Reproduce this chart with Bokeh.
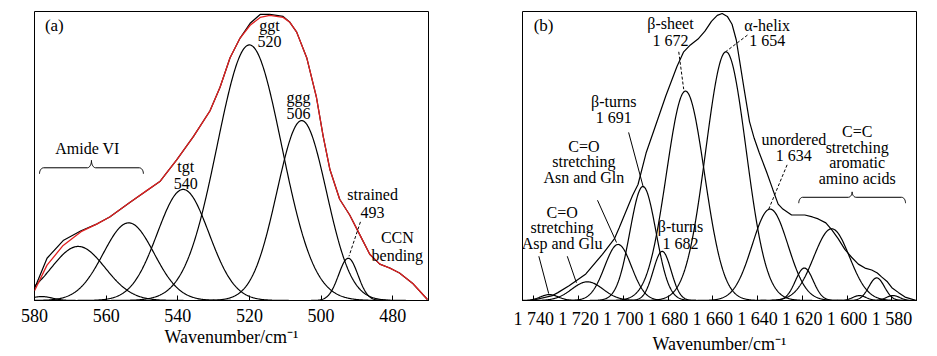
import numpy as np
from bokeh.plotting import figure
from bokeh.layouts import row
from bokeh.models import FixedTicker, Range1d
from bokeh.core.properties import value
from bokeh.embed import file_html
from bokeh.resources import INLINE

FONT = "Liberation Serif"

# ---------------- Panel (a): 580-470 cm-1 ----------------
a_peak_center = [578.0, 567.8, 553.7, 538.5, 520.0, 505.4, 492.4]
a_peak_height = [4, 55, 79, 113, 260, 183, 43]
a_peak_sigma = [3.0, 7.5, 7.1, 7.2, 9.0, 6.9, 2.7]

a_env_x = [580, 576.5, 572, 567, 562.5, 559, 553.3, 548.6, 545, 543.5, 540.3, 535.6,
           531, 528.2, 525.4, 522.6, 519.8, 517, 514.3, 510.6, 508.7, 506.8, 504,
           501.3, 499.4, 497.5, 494.8, 492, 489.2, 486.4, 483.6, 480.8, 478.1, 474.3, 470.3]
a_env_measured = [10, 36, 56, 70, 78, 85, 100, 112, 121, 128, 143, 167,
                  193, 217, 247, 267, 280, 288, 290, 288, 283, 273, 247,
                  207, 167, 133, 103, 87, 67, 47, 37, 33, 28, 17, 1]
a_env_fit = [12, 43, 61, 71, 78, 85, 100, 112, 121, 128, 143, 167,
             193, 217, 247, 267, 282, 291, 291, 289, 283, 273, 247,
             207, 167, 133, 103, 87, 67, 47, 37, 33, 28, 17, 1]
a_ticks = [580, 560, 540, 520, 500, 480]

# ---------------- Panel (b): 1745-1569 cm-1 ----------------
b_peak_center = [1733, 1716, 1702.3, 1691.2, 1682.6, 1672.2, 1654.1, 1634.4,
                 1619.1, 1606.9, 1594.5, 1586.8, 1579.5]
b_peak_height = [6, 19, 57, 116, 50, 213, 253, 93, 33, 73, 5, 23, 5]
b_peak_sigma = [4, 7, 6, 5.8, 4, 8.5, 9, 8, 4, 8, 3, 3.5, 3]

b_env_x = [1741, 1731.6, 1729.2, 1724.2, 1716.7, 1709.3, 1703.9, 1701.8, 1695.8,
           1693.4, 1689.8, 1686, 1681, 1676, 1673, 1670, 1666.6, 1663.5, 1660.6,
           1658, 1655.8, 1653.5, 1651.4, 1649.5, 1648.1, 1646, 1643.6, 1641.5,
           1639.2, 1636, 1633.2, 1630.8, 1628.7, 1624.8, 1621, 1618.9, 1615.5,
           1612.9, 1609.5, 1606.9, 1604, 1601, 1598, 1595, 1592, 1589, 1586.5,
           1584.6, 1582, 1580, 1577, 1574.1, 1569]
b_env_fit = [0, 5, 8, 15, 27, 47, 63, 74, 107,
             118, 150, 175, 208, 238, 253, 260, 266, 274, 284,
             290, 292, 289, 281, 265, 245, 215, 182, 165,
             150, 131, 113, 98, 93, 87, 87, 87, 85,
             83, 79, 72, 63, 52, 44, 37, 33, 31, 28,
             24, 19, 13, 8, 3.5, 0]
b_ticks = [1740, 1720, 1700, 1680, 1660, 1640, 1620, 1600, 1580]
b_tick_labels = ["1 740", "1 720", "1 700", "1 680", "1 660", "1 640", "1 620", "1 600", "1 580"]


def gauss(x, c, h, s):
    return h * np.exp(-((x - c) ** 2) / (2.0 * s * s))


def make_fig(xr, width, left, right, ticks, labels=None):
    p = figure(width=width, height=356, x_range=Range1d(xr[0], xr[1]),
               y_range=Range1d(0, 294), output_backend="svg", toolbar_location=None,
               min_border_left=left, min_border_right=right, min_border_top=11,
               min_border_bottom=51)
    p.xgrid.visible = False
    p.ygrid.visible = False
    p.yaxis.visible = False
    p.outline_line_color = "black"
    p.outline_line_width = 1
    p.outline_line_alpha = 1
    ax = p.xaxis[0]
    ax.ticker = FixedTicker(ticks=ticks)
    if labels:
        ax.major_label_overrides = {t: l for t, l in zip(ticks, labels)}
    ax.major_tick_in = 5
    ax.major_tick_out = 0
    ax.minor_tick_in = 0
    ax.minor_tick_out = 0
    ax.axis_line_color = "black"
    ax.major_tick_line_color = "black"
    ax.major_label_text_font = FONT
    ax.major_label_text_font_size = "18px"
    ax.major_label_text_color = "black"
    ax.major_label_standoff = 8
    ax.axis_label = "Wavenumber/cm\u207b\u00b9"
    ax.axis_label_text_font = FONT
    ax.axis_label_text_font_size = "18px"
    ax.axis_label_text_font_style = "normal"
    ax.axis_label_text_color = "black"
    ax.axis_label_standoff = 2
    return p


def add_text(p, xs, ys, texts, size="16px", align="center"):
    p.text(x=xs, y=ys, text=texts, text_font=value(FONT), text_font_size=size,
           text_align=align, text_baseline="middle", text_color="black")


def brace(p, x0, x1, y_end, y_line, y_tip, r):
    t = np.linspace(0, np.pi / 2, 12)
    u1 = r - r * np.cos(t)
    v1 = y_end + (y_line - y_end) * np.sin(t)
    u2 = 0.5 - r + r * np.sin(t)
    v2 = y_tip - (y_tip - y_line) * np.cos(t)
    u_left = np.concatenate([u1, u2])
    v_left = np.concatenate([v1, v2])
    u = np.concatenate([u_left, (1 - u_left)[::-1]])
    v = np.concatenate([v_left, v_left[::-1]])
    p.line(x0 + u * (x1 - x0), v, line_color="black", line_width=1)


# ---------------- build (a) ----------------
pa = make_fig((580, 470), 470, 34, 42, a_ticks)
xa = np.linspace(580, 470, 600)
for c, h, s in zip(a_peak_center, a_peak_height, a_peak_sigma):
    pa.line(xa, gauss(xa, c, h, s), line_color="black", line_width=1.2)
pa.line(a_env_x, a_env_fit, line_color="black", line_width=1.2)
pa.line(a_env_x, a_env_measured, line_color="#e02020", line_width=1.3)

add_text(pa, [577.1], [280], ["(a)"], size="17px", align="left")
add_text(pa, [514.4, 514.4], [280, 263], ["ggt", "520"])
add_text(pa, [506.3, 506.3], [207, 190], ["ggg", "506"])
add_text(pa, [537.8, 537.8], [136, 119], ["tgt", "540"])
add_text(pa, [565.2], [155], ["Amide VI"])
add_text(pa, [485.6, 485.6], [108, 90], ["strained", "493"])
add_text(pa, [478.7, 478.7], [64, 46], ["CCN", "bending"])
brace(pa, 578.6, 549.6, 129, 135, 142.5, 0.04)
pa.line([489.0, 492.2], [80, 45], line_color="black", line_width=1, line_dash="3 2")

# ---------------- build (b) ----------------
pb = make_fig((1745, 1569), 467, 52, 21, b_ticks, b_tick_labels)
xb = np.linspace(1745, 1569, 800)
for c, h, s in zip(b_peak_center, b_peak_height, b_peak_sigma):
    pb.line(xb, gauss(xb, c, h, s), line_color="black", line_width=1.2)
pb.line(b_env_x, b_env_fit, line_color="black", line_width=1.2)

add_text(pb, [1740], [280], ["(b)"], size="17px", align="left")
add_text(pb, [1678.9, 1678.9], [282, 265], ["\u03b2-sheet", "1 672"])
add_text(pb, [1635.7, 1635.7], [280, 264], ["\u03b1-helix", "1 654"])
add_text(pb, [1704.2, 1704.2], [202, 186], ["\u03b2-turns", "1 691"])
add_text(pb, [1717.6, 1717.6, 1717.6], [157, 141, 125], ["C=O", "stretching", "Asn and Gln"])
add_text(pb, [1727.3, 1727.3, 1727.3], [90, 74, 58], ["C=O", "stretching", "Asp and Glu"])
add_text(pb, [1674.4, 1674.4], [75, 58], ["\u03b2-turns", "1 682"])
add_text(pb, [1623.8, 1623.8], [164, 148], ["unordered", "1 634"])
add_text(pb, [1595.5] * 4, [172, 156, 140, 124], ["C=C", "stretching", "aromatic", "amino acids"])
brace(pb, 1621.6, 1573.9, 99, 105, 110.5, 0.037)

pb.line([1675.2, 1673.0], [253, 215], line_color="black", line_width=1, line_dash="3 2")
pb.line([1644.5, 1654.3], [270, 253], line_color="black", line_width=1, line_dash="3 2")
pb.line([1626.8, 1635.0], [138, 93], line_color="black", line_width=1, line_dash="3 2")
pb.line([1697.6, 1691.0], [171, 115], line_color="black", line_width=1)
pb.line([1711.5, 1703.0], [102, 59], line_color="black", line_width=1)
pb.line([1737.7, 1733.3], [45, 7], line_color="black", line_width=1)
pb.line([1725.0, 1720.9], [45, 18], line_color="black", line_width=1)

layout = row(pa, pb)
open("out.html", "w").write(file_html(layout, INLINE))
